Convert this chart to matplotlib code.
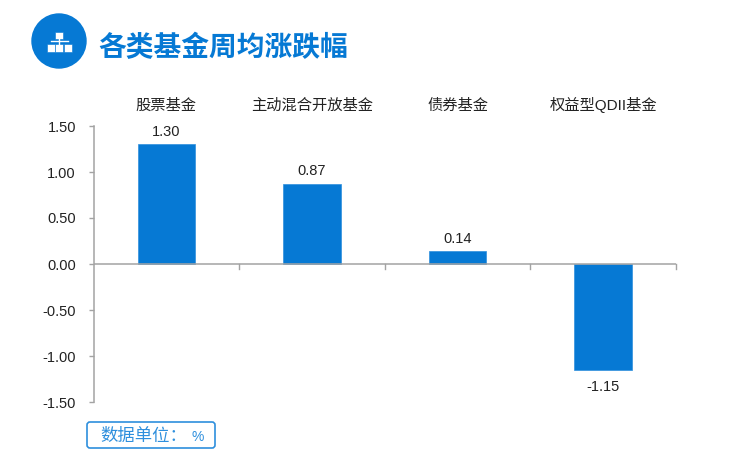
import matplotlib
matplotlib.use("Agg")
import matplotlib.pyplot as plt
import matplotlib.patches as mpatches

plt.rcParams["font.family"] = ["Liberation Sans", "Noto Sans CJK SC", "DejaVu Sans"]

categories = ["股票基金", "主动混合开放基金", "债券基金", "权益型QDII基金"]
values = [1.30, 0.87, 0.14, -1.15]
yticks = [-1.5, -1.0, -0.5, 0.0, 0.5, 1.0, 1.5]

BLUE = "#0679D4"
GREY = "#A3A3A3"
TEXT = "#222222"
W, H = 734, 472

fig = plt.figure(figsize=(W / 100, H / 100), dpi=100)
ax = fig.add_axes([93.5 / W, 1 - 402 / H, (676 - 93.5) / W, (402 - 126) / H])

x = range(len(values))
ax.bar(x, values, 0.395, color=BLUE, edgecolor="#2E8FDD", linewidth=0.5)
ax.set_xlim(-0.5, 3.5)
ax.set_ylim(-1.5, 1.5)

for s in ["top", "right", "bottom"]:
    ax.spines[s].set_visible(False)
ax.spines["left"].set_color(GREY)
ax.spines["left"].set_linewidth(1.1)

ax.set_yticks(yticks)
ax.set_yticklabels([f"{v:.2f}" for v in yticks], fontsize=10.5, color=TEXT)
ax.tick_params(axis="y", direction="out", length=3.6, width=1, color=GREY, pad=9)

# zero line with category ticks
ax.axhline(0, color=GREY, lw=1.1, zorder=3)
ax.set_xticks([])
for b in [0.5, 1.5, 2.5, 3.5]:
    ax.plot([b, b], [0, -0.05], color=GREY, lw=1, clip_on=False, zorder=3)

for i, v in enumerate(values):
    off = 4 if v >= 0 else -7
    ax.annotate(f"{v:.2f}", (i, v), xytext=(0, off), textcoords="offset points",
                ha="center", va="bottom" if v >= 0 else "top", fontsize=10.5, color=TEXT)
    fig.text((93.5 + (i + 0.5) * 145.6) / W, 1 - 110 / H, categories[i],
             ha="center", va="baseline", fontsize=11, color=TEXT)

# header icon and title
bg = fig.add_axes([0, 0, 1, 1], zorder=-1)
bg.set_xlim(0, W)
bg.set_ylim(H, 0)
bg.axis("off")
bg.add_patch(mpatches.Circle((59, 41), 27, color=BLUE))
for rx, ry, rw, rh in [(55, 32, 8, 7), (47, 44, 8, 8), (55, 44, 8, 8), (64, 44, 8, 8)]:
    bg.add_patch(mpatches.Rectangle((rx, ry), rw, rh, facecolor="white", edgecolor=BLUE, lw=0.4))
bg.plot([59, 59], [39, 44], color="white", lw=1)
bg.plot([51, 68], [41, 41], color="white", lw=1)
bg.text(98, 56, "各类基金周均涨跌幅", fontsize=20, fontweight="bold", color=BLUE, ha="left", va="baseline")

# unit box
bg.add_patch(mpatches.FancyBboxPatch((87, 422), 128, 26, boxstyle="round,pad=0,rounding_size=3",
                                     facecolor="white", edgecolor="#2E8FDD", lw=1.2))
bg.text(100, 441, "数据单位：", fontsize=12.5, color="#2E8FDD", ha="left", va="baseline")
bg.text(192, 441, "%", fontsize=10, color="#2E8FDD", ha="left", va="baseline")

fig.savefig("out.png", dpi=100)
